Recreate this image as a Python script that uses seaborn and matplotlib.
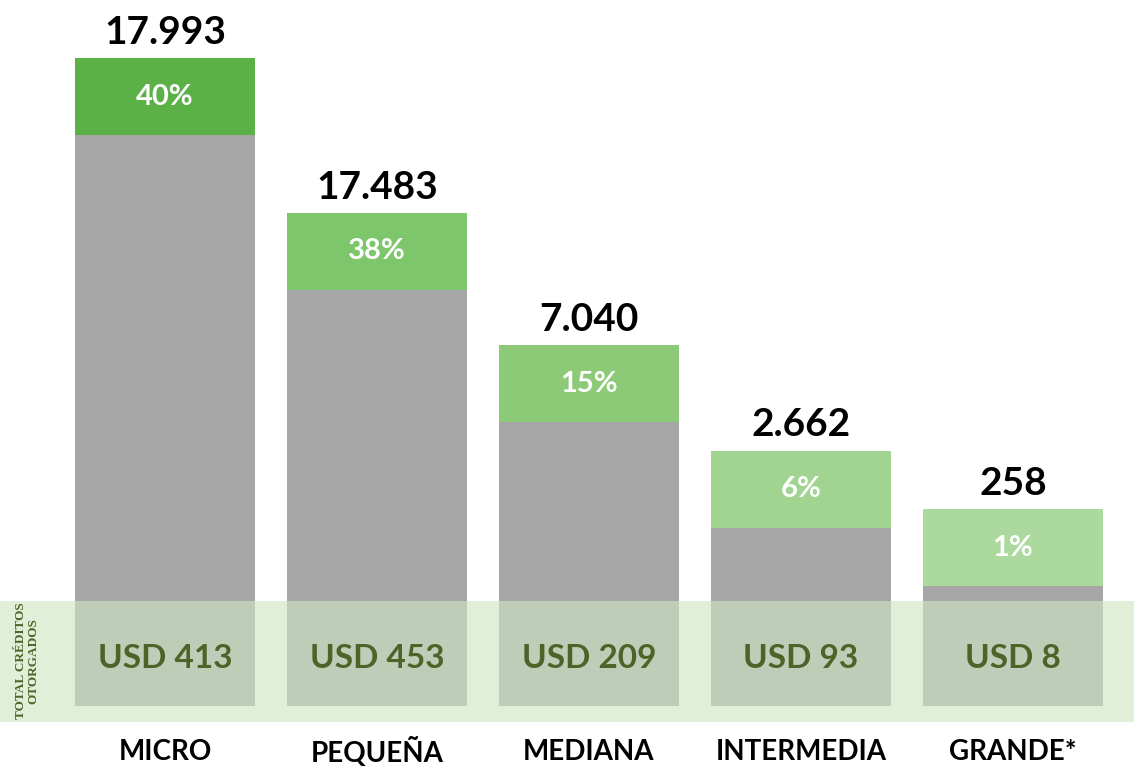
import matplotlib
matplotlib.use("Agg")
import matplotlib.pyplot as plt
import seaborn as sns

# data
categories = ["MICRO", "PEQUEÑA", "MEDIANA", "INTERMEDIA", "GRANDE*"]
credits = ["17.993", "17.483", "7.040", "2.662", "258"]
shares = ["40%", "38%", "15%", "6%", "1%"]
usd_totals = ["USD 413", "USD 453", "USD 209", "USD 93", "USD 8"]
# visual bar height (arbitrary units, MICRO = 100), as drawn in the reference
bar_height = [100, 76.1, 55.7, 39.4, 30.4]

GRAY = "#a6a6a6"
CAP_COLORS = ["#5cb146", "#7ec66c", "#8cca78", "#a0d490", "#acd99e"]
OLIVE = "#4f6228"
CAP = 11.9
FONT = ["Lato", "DejaVu Sans"]


def setup_style():
    sns.set_style("white")
    plt.rcParams["font.family"] = FONT


def plot_chart():
    fig = plt.figure(figsize=(11.34, 7.66), dpi=100)
    ax = fig.add_axes([0, 0, 1, 1])

    sns.barplot(x=categories, y=bar_height, color=GRAY, saturation=1,
                width=0.85, ax=ax, zorder=1, linewidth=0)

    x = list(range(len(categories)))
    caps_bottom = [h - CAP for h in bar_height]
    ax.bar(x, [CAP] * len(x), bottom=caps_bottom, width=0.85,
           color=CAP_COLORS, linewidth=0, zorder=2)

    # light band with credit totals
    ax.axhspan(-2.45, 16.2, color="#cfe5c2", alpha=0.61, lw=0, zorder=3)

    for i in x:
        ax.annotate(credits[i], (i, bar_height[i]), xytext=(0, 6),
                    textcoords="offset points", ha="center", va="bottom",
                    fontsize=28, fontweight="bold", color="black")
        ax.text(i, bar_height[i] - CAP / 2, shares[i], ha="center",
                va="center", fontsize=21, fontweight="bold", color="white",
                zorder=4)
        ax.text(i, 7.4, usd_totals[i], ha="center", va="center",
                fontsize=24, fontweight="bold", color=OLIVE, zorder=4)
        ax.text(i, -7.1, categories[i], ha="center", va="center",
                fontsize=20, fontweight="bold", color="black")

    ax.text(-0.65, 7.0, "TOTAL CRÉDITOS\nOTORGADOS", rotation=90,
            ha="center", va="center", fontsize=9.5, fontweight="bold",
            family="Liberation Serif", color=OLIVE, linespacing=1.0, zorder=4)

    ax.set_xlim(-0.778, 4.571)
    ax.set_ylim(-9.26, 108.95)
    ax.axis("off")

    fig.savefig("out.png", dpi=100)
    plt.close(fig)


if __name__ == "__main__":
    setup_style()
    plot_chart()
